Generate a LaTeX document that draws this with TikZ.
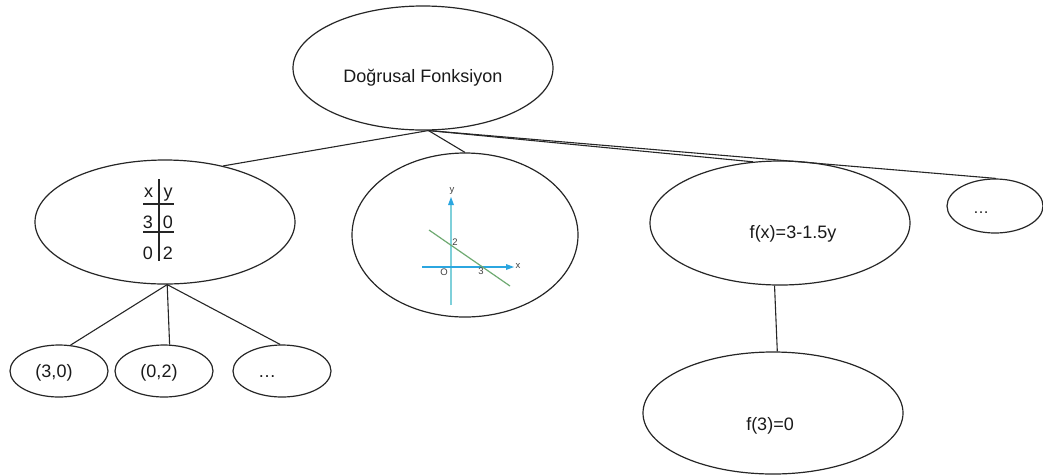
\documentclass[tikz,border=0pt]{standalone}
\usepackage{fontspec}
\setmainfont{Liberation Sans}
\usetikzlibrary{shapes.geometric,arrows.meta}
\definecolor{edge}{HTML}{262626}
\definecolor{txt}{HTML}{1A1A1A}
\definecolor{axisy}{HTML}{7FD0DA}
\definecolor{axisx}{HTML}{2BA6E0}
\definecolor{gline}{HTML}{6FAA72}
\definecolor{glab}{HTML}{404040}
\begin{document}
\begin{tikzpicture}[x=1pt,y=-1pt,
  bubble/.style={ellipse,draw=edge,line width=1.2pt,inner sep=0pt,fill=white},
  link/.style={draw=edge,line width=1.1pt},
  lbl/.style={font=\fontsize{18}{20}\selectfont,text=txt,inner sep=0pt,anchor=base},
  small/.style={font=\fontsize{9.5}{10}\selectfont,text=glab,inner sep=0pt}]
\useasboundingbox (0,0) rectangle (1043,475);
% ellipses
\node[bubble,minimum width=260pt,minimum height=124pt] (top)  at (423,68)  {};
\node[bubble,minimum width=260pt,minimum height=124pt] (left) at (165,222) {};
\node[bubble,minimum width=226pt,minimum height=164pt] (circ) at (465,235) {};
\node[bubble,minimum width=260pt,minimum height=124pt] (fx)   at (780,223) {};
\node[bubble,minimum width=96pt,minimum height=54pt]   (dots) at (995,206) {};
\node[bubble,minimum width=98pt,minimum height=52pt]   (c1)   at (59,371)  {};
\node[bubble,minimum width=98pt,minimum height=52pt]   (c2)   at (164,371) {};
\node[bubble,minimum width=98pt,minimum height=52pt]   (c3)   at (282,371) {};
\node[bubble,minimum width=260pt,minimum height=122pt] (f3)   at (773,413) {};
% connectors
\draw[link] (top.275) -- (left.44);
\draw[link] (top.275) -- (circ.north);
\draw[link] (top.275) -- (fx.114);
\draw[link] (top.275) -- (dots.88);
\draw[link] (left.272) -- (c1.66);
\draw[link] (left.272) -- (c2.78);
\draw[link] (left.272) -- (c3.94);
\draw[link] (fx.265) -- (f3.86);
% texts
\node[lbl] (t0) at (423,82) {Doğrusal Fonksiyon};
\node[lbl] (t1) at (793,238) {f(x)=3-1.5y};
\node[lbl] (t2) at (770,430) {f(3)=0};
\node[lbl] (t3) at (54,377) {(3,0)};
\node[lbl] (t4) at (159,377) {(0,2)};
\node[lbl] (t5) at (267,377) {…};
\node[lbl,font=\fontsize{16}{18}\selectfont] (t6) at (981,213) {…};
% table
\draw[link] (159,179) -- (159,261);
\draw[link] (143,204) -- (174,204);
\draw[link] (143,232) -- (174,232);
\node[lbl] (tx) at (148.5,197) {x};
\node[lbl] (ty) at (168,197) {y};
\node[lbl] (ta) at (148,228) {3};
\node[lbl] (tb) at (168,228) {0};
\node[lbl] (tc) at (148,259) {0};
\node[lbl] (td) at (168,259) {2};
% graph
\draw[axisy,line width=1.6pt] (451,305) -- (451,203);
\fill[axisx] (451,197) -- (448,205) -- (454,205) -- cycle;
\draw[axisx,line width=1.3pt] (422,267) -- (508,267);
\fill[axisx] (514,267) -- (506,264) -- (506,270) -- cycle;
\draw[gline,line width=1.2pt] (429,230) -- (510,286);
\node[small] (gy) at (452,191) {y};
\node[small] (gx) at (518,266) {x};
\node[small] (go) at (444,272) {O};
\node[small] (g2) at (455,242) {2};
\node[small] (g3) at (481,271) {3};
\end{tikzpicture}
\end{document}
